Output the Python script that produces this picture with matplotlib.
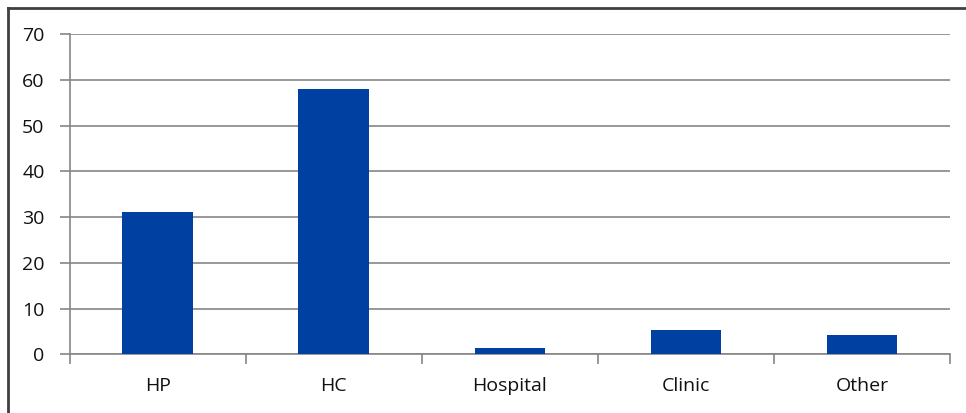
import numpy as np
import matplotlib.pyplot as plt
from matplotlib.lines import Line2D

categories = ['HP', 'HC', 'Hospital', 'Clinic', 'Other']
values = [31, 58, 1.3, 5.3, 4.3]
y_ticks = [0, 10, 20, 30, 40, 50, 60, 70]

plt.rcParams['font.family'] = ['Open Sans', 'DejaVu Sans']

fig = plt.figure(figsize=(9.66, 4.13), dpi=100)
ax = fig.add_axes([0.072, 0.142, 0.9114, 0.7757])

x = np.arange(len(categories))
ax.bar(x, values, width=0.4, color='#0040A0', zorder=3)

ax.set_xlim(-0.5, len(categories) - 0.5)
ax.set_ylim(0, 70)
ax.set_yticks(y_ticks)
ax.yaxis.grid(True, color='#868686', linewidth=1.2, zorder=0)

# category boundaries get tick marks, labels sit in the middle
ax.set_xticks(np.arange(len(categories) + 1) - 0.5)
ax.set_xticklabels([])
ax.set_xticks(x, minor=True)
ax.set_xticklabels(categories, minor=True)
ax.tick_params(axis='x', which='major', length=7, color='#868686', width=1.2)
ax.tick_params(axis='x', which='minor', length=0, pad=16, labelsize=14, labelcolor='#111111')
ax.tick_params(axis='y', length=7, color='#868686', width=1.2, pad=11, labelsize=14, labelcolor='#111111')

for side in ['top', 'right']:
    ax.spines[side].set_visible(False)
for side in ['left', 'bottom']:
    ax.spines[side].set_color('#868686')
    ax.spines[side].set_linewidth(1.2)

# outer frame, left and top edges
fig.add_artist(Line2D([8/966, 8/966], [0, 1 - 8/413], transform=fig.transFigure,
                      color='#404040', linewidth=2))
fig.add_artist(Line2D([8/966, 1], [1 - 8/413, 1 - 8/413], transform=fig.transFigure,
                      color='#404040', linewidth=2))

fig.savefig('out.png', dpi=100)
